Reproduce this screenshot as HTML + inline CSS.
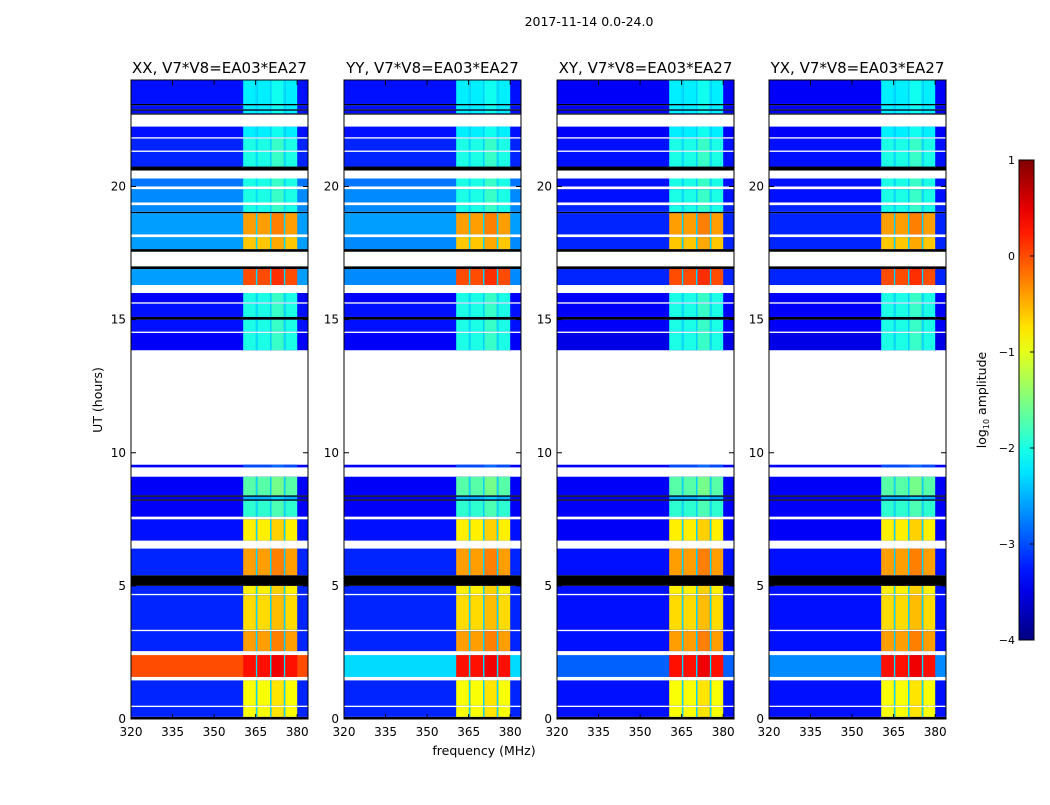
<!DOCTYPE html>
<html><head><meta charset="utf-8"><style>
body{margin:0;background:#fff;font-family:"Liberation Sans","DejaVu Sans",sans-serif}
svg text{font-family:"DejaVu Sans","Liberation Sans",sans-serif}
</style></head><body>
<svg id="fig" width="1050" height="800" xmlns="http://www.w3.org/2000/svg">
<rect width="1050" height="800" fill="#fff"/>
<text x="589" y="26" font-size="12.5" text-anchor="middle">2017-11-14 0.0-24.0</text>
<text x="484" y="755" font-size="12.5" text-anchor="middle">frequency (MHz)</text>
<text transform="translate(102,400) rotate(-90)" font-size="12.5" text-anchor="middle">UT (hours)</text>
<g id="panels"></g>
<g id="cbar"></g>
<text transform="translate(986,400) rotate(-90)" font-size="12.5" text-anchor="middle">log<tspan font-size="8" dy="3">10</tspan><tspan dy="-3"> amplitude</tspan></text>
</svg>
<script>
const panelTitles=["XX, V7*V8=EA03*EA27","YY, V7*V8=EA03*EA27","XY, V7*V8=EA03*EA27","YX, V7*V8=EA03*EA27"];
const xTicks=[320,335,350,365,380];
const yTicks=[0,5,10,15,20];
const cbTicks=[1,0,-1,-2,-3,-4];
const cbLabels=["1","0","\u22121","\u22122","\u22123","\u22124"];
const subBandLo=[360.5,365.6,370.7,375.7];
const subBandHi=[365.1,370.2,375.2,380.0];
const segStart=[0,0.08,0.45,0.5,1.45,1.58,2.4,2.55,3.3,3.35,4.65,4.7,5.0,5.4,6.4,6.7,7.5,7.6,8.2,8.25,8.35,8.4,9.1,9.45,9.55,13.85,14.5,14.55,15.0,15.1,15.6,15.65,16.0,16.3,16.9,17.0,17.55,17.65,18.1,18.2,19.0,19.05,19.3,19.4,19.9,20.0,20.3,20.6,20.75,21.3,21.35,21.8,21.85,22.25,22.7,22.75,22.85,22.9,23.05,23.1];
const segEnd  =[0.08,0.45,0.5,1.45,1.58,2.4,2.55,3.3,3.35,4.65,4.7,5.0,5.4,6.4,6.7,7.5,7.6,8.2,8.25,8.35,8.4,9.1,9.45,9.55,13.85,14.5,14.55,15.0,15.1,15.6,15.65,16.0,16.3,16.9,17.0,17.55,17.65,18.1,18.2,19.0,19.05,19.3,19.4,19.9,20.0,20.3,20.6,20.75,21.3,21.35,21.8,21.85,22.25,22.7,22.75,22.85,22.9,23.05,23.1,24.0];
const segType ="kdwdwdwdwdwdkdwdwdkdkdwdwdwdkdwdwdkwkdwdkdwdwdwkdwdwdwkdkdkd";
const segBg=[[0,0,0,0],[-3.2,-3.2,-3.3,-3.3],[0,0,0,0],[-3.2,-3.2,-3.3,-3.3],[0,0,0,0],[0.0,-2.3,-2.9,-2.7],[0,0,0,0],[-3.2,-3.2,-3.3,-3.3],[0,0,0,0],[-3.2,-3.2,-3.3,-3.3],[0,0,0,0],[-3.2,-3.2,-3.3,-3.3],[0,0,0,0],[-3.2,-3.2,-3.3,-3.3],[0,0,0,0],[-3.3,-3.3,-3.4,-3.4],[0,0,0,0],[-3.4,-3.4,-3.4,-3.4],[0,0,0,0],[-3.5,-3.5,-3.5,-3.5],[0,0,0,0],[-3.4,-3.4,-3.4,-3.4],[0,0,0,0],[-3.4,-3.4,-3.4,-3.4],[0,0,0,0],[-3.4,-3.4,-3.5,-3.5],[0,0,0,0],[-3.3,-3.3,-3.4,-3.4],[0,0,0,0],[-3.3,-3.3,-3.4,-3.4],[0,0,0,0],[-3.4,-3.4,-3.4,-3.4],[0,0,0,0],[-2.6,-2.7,-3.2,-3.2],[0,0,0,0],[0,0,0,0],[0,0,0,0],[-2.6,-2.7,-3.2,-3.2],[0,0,0,0],[-2.6,-2.6,-3.2,-3.2],[0,0,0,0],[-2.7,-2.7,-3.2,-3.2],[0,0,0,0],[-2.7,-2.7,-3.3,-3.3],[0,0,0,0],[-2.8,-2.8,-3.3,-3.3],[0,0,0,0],[0,0,0,0],[-3.2,-3.2,-3.3,-3.3],[0,0,0,0],[-3.2,-3.2,-3.3,-3.3],[0,0,0,0],[-3.3,-3.3,-3.4,-3.4],[0,0,0,0],[0,0,0,0],[-3.3,-3.3,-3.4,-3.4],[0,0,0,0],[-3.3,-3.3,-3.4,-3.4],[0,0,0,0],[-3.3,-3.3,-3.4,-3.4]];
const segBand=[0,-0.9,0,-0.9,0,0.3,0,-0.4,0,-0.7,0,-0.8,0,-0.4,0,-0.8,0,-1.9,0,-2.5,0,-1.7,0,-3.0,0,-2.0,0,-2.0,0,-2.0,0,-2.0,0,0.0,0,0,0,-0.6,0,-0.4,0,-2.0,0,-2.0,0,-2.0,0,0,-2.0,0,-2.0,0,-2.2,0,0,-2.2,0,-2.2,0,-2.2];

const panelLeft=[131,344,557,769], panelW=177, panelTop=80, panelBot=719;
const fMin=320, fMax=383.9, tMin=0, tMax=24;
const NS="http://www.w3.org/2000/svg";
function jet(v){let t=(v+4)/5;t=Math.max(0,Math.min(1,t));
 const c=x=>Math.round(255*Math.max(0,Math.min(1,x)));
 return `rgb(${c(1.5-Math.abs(4*t-3))},${c(1.5-Math.abs(4*t-2))},${c(1.5-Math.abs(4*t-1))})`;}
function mk(tag,attrs,parent){const e=document.createElementNS(NS,tag);for(const k in attrs)e.setAttribute(k,attrs[k]);parent.appendChild(e);return e;}
const panels=document.getElementById('panels');
panelTitles.forEach((title,p)=>{
 const L=panelLeft[p];
 const xs=f=>L+(f-fMin)/(fMax-fMin)*panelW;
 const ys=t=>panelBot-(t-tMin)/(tMax-tMin)*(panelBot-panelTop);
 const g=mk('g',{},panels);
 
 
 for(let i=0;i<segStart.length;i++){
  const y0=ys(segEnd[i]),h=ys(segStart[i])-y0,ty=segType[i];
  if(ty==='w')continue;
  const r=mk('rect',{x:L,y:y0,width:panelW,height:h,fill:ty==='k'?'#000':jet(segBg[i][p])},g);
  
  
  if(ty==='d'){
   subBandLo.forEach((lo,b)=>{
    const hi=subBandHi[b];
    const br=mk('rect',{x:xs(lo),y:y0,width:xs(hi)-xs(lo),height:h,fill:jet(segBand[i]+(b===2?0.15:0))},g);
    
    
    if(b<3){const gp=mk('rect',{x:xs(hi),y:y0,width:xs(subBandLo[b+1])-xs(hi),height:h,fill:jet(Math.min(segBand[i],-2.3))},g);
     
     }
   });
  }
 }
 const fr=mk('rect',{x:L,y:panelTop,width:panelW,height:panelBot-panelTop,fill:'none',stroke:'#000','stroke-width':1},g);
 
 
 const tt=mk('text',{x:L+panelW/2,y:73,'font-size':15,'text-anchor':'middle'},g);tt.textContent=title;
 
 
 xTicks.forEach(f=>{const x=xs(f);
  mk('line',{x1:x,x2:x,y1:panelBot,y2:panelBot-5,stroke:'#000'},g);
  mk('line',{x1:x,x2:x,y1:panelTop,y2:panelTop+5,stroke:'#000'},g);
  const t=mk('text',{x:x,y:736,'font-size':12,'text-anchor':'middle'},g);t.textContent=f;
  
  });
 yTicks.forEach(v=>{const y=ys(v);
  mk('line',{x1:L,x2:L+5,y1:y,y2:y,stroke:'#000'},g);
  mk('line',{x1:L+panelW,x2:L+panelW-5,y1:y,y2:y,stroke:'#000'},g);
  const t=mk('text',{x:L-5,y:y+4,'font-size':12,'text-anchor':'end'},g);t.textContent=v;
  
  });
});
const cb=document.getElementById('cbar');
const cbTop=160,cbBot=640,cbX=1019,cbW=15;
const defs=mk('defs',{},cb);const lg=mk('linearGradient',{id:'jetg',x1:0,y1:1,x2:0,y2:0},defs);
for(let i=0;i<=20;i++){mk('stop',{offset:i/20,'stop-color':jet(-4+5*i/20)},lg);}
const cr=mk('rect',{x:cbX,y:cbTop,width:cbW,height:cbBot-cbTop,fill:'url(#jetg)',stroke:'#000'},cb);


cbTicks.forEach((v,i)=>{const y=cbBot-(v+4)/5*(cbBot-cbTop);
 mk('line',{x1:cbX+cbW-4,x2:cbX+cbW,y1:y,y2:y,stroke:'#000'},cb);
 const t=mk('text',{x:1015,y:y+4,'font-size':11,'text-anchor':'end'},cb);t.textContent=cbLabels[i];
 
 });
</script>
</body></html>
